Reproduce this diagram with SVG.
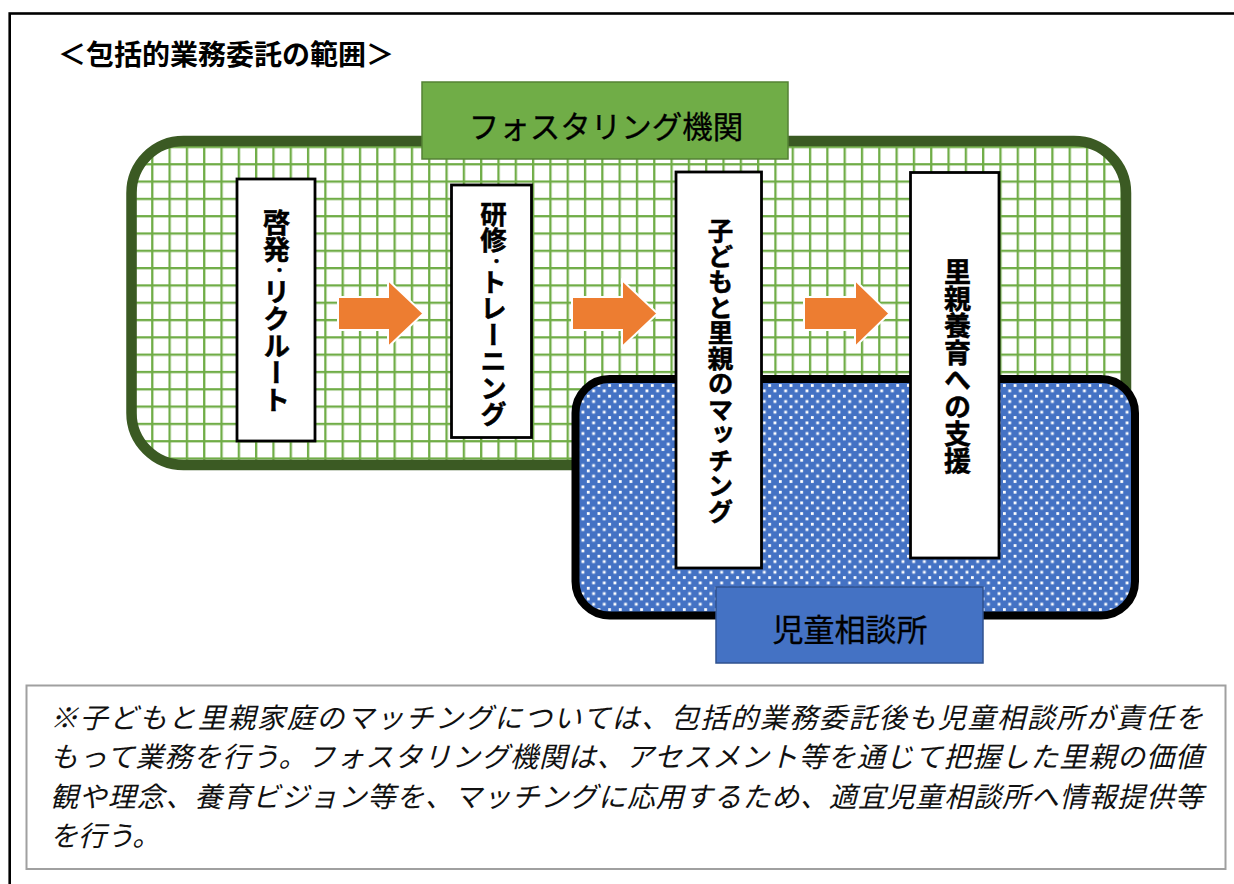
<svg xmlns="http://www.w3.org/2000/svg" width="1234" height="884" viewBox="0 0 1234 884">
<defs>
<style>
.sans{font-family:"Noto Sans CJK JP","Noto Sans CJK SC",sans-serif;}
.vbox{fill:#fff;stroke:#000;stroke-width:2.8;}
.vtxt{font-family:"Noto Sans CJK JP",sans-serif;font-weight:bold;font-size:26.5px;fill:#000;stroke:#000;stroke-width:0.5;writing-mode:vertical-rl;text-anchor:middle;}
.dot{font-size:15px;}
.arrow{fill:#ed7d31;stroke:#fff;stroke-width:2;}
.note{font-family:"Noto Sans CJK JP",sans-serif;font-style:italic;font-size:28px;fill:#111;}
</style>
<pattern id="grid" patternUnits="userSpaceOnUse" x="151.15" y="163.15" width="17.31" height="17.31">
<rect x="0" y="0" width="17.31" height="17.31" fill="#fff"/>
<rect x="0" y="0" width="2.3" height="17.31" fill="#70ad47"/>
<rect x="0" y="0" width="17.31" height="2.3" fill="#70ad47"/>
</pattern>
<pattern id="dots" patternUnits="userSpaceOnUse" x="0" y="0" width="10.67" height="10.67">
<rect x="0" y="0" width="10.67" height="10.67" fill="#4472c4"/>
<rect x="0" y="0" width="2.8" height="2.8" fill="#fff"/>
<rect x="5.33" y="5.33" width="2.8" height="2.8" fill="#fff"/>
</pattern>
</defs>

<rect id="frame" x="9.7" y="13.5" width="1240" height="890" fill="none" stroke="#000" stroke-width="2.6"/>

<text id="title" class="sans" x="58" y="65" font-size="28" font-weight="bold" fill="#000">＜包括的業務委託の範囲＞</text>

<g id="fostering-area">
<rect x="131.5" y="141" width="994.5" height="324" rx="52" ry="52" fill="url(#grid)" stroke="#3b5a23" stroke-width="10.5"/>
</g>

<g id="fostering-label">
<rect x="422" y="82" width="366" height="77" fill="#70ad47" stroke="#548235" stroke-width="1.5"/>
<text class="sans" x="606" y="138" font-size="30.5" text-anchor="middle" fill="#000" stroke="#000" stroke-width="0.3">フォスタリング機関</text>
</g>

<g id="box-recruit">
<rect class="vbox" x="237" y="179" width="78" height="262"/>
<text class="vtxt" x="276.5" y="311" style="font-size:27px">啓発<tspan class="dot" dx="3">・</tspan><tspan dx="-3">リクルート</tspan></text>
</g>

<g id="box-training">
<rect class="vbox" x="451.5" y="185" width="80" height="252.5"/>
<text class="vtxt" x="493.5" y="314">研修<tspan class="dot" dx="3">・</tspan><tspan dx="-3">トレーニング</tspan></text>
</g>

<g id="connectors">
<path class="arrow" d="M338 297 H388 V280 L423.5 313.5 L388 347 V330 H338 Z"/>
<path class="arrow" d="M572 297 H622 V280 L657.5 313.5 L622 347 V330 H572 Z"/>
<path class="arrow" d="M804 297 H855 V280 L889.5 313.5 L855 347 V330 H804 Z"/>
</g>

<g id="jisou-area">
<rect x="575.5" y="379" width="559.5" height="236.5" rx="34" ry="34" fill="url(#dots)" stroke="#000" stroke-width="8"/>
</g>

<g id="box-matching">
<rect class="vbox" x="676" y="172" width="85.5" height="396"/>
<text class="vtxt" x="720.5" y="371" style="font-size:25.5px">子どもと里親のマッチング</text>
</g>

<g id="box-support">
<rect class="vbox" x="910.5" y="172.5" width="88.5" height="385.5"/>
<text class="vtxt" x="957.5" y="366" style="font-size:27px">里親養育への支援</text>
</g>

<g id="jisou-label">
<rect x="716" y="587" width="267" height="76" fill="#4472c4" stroke="#2f528f" stroke-width="1.5"/>
<text class="sans" x="850" y="641" font-size="31" text-anchor="middle" fill="#000" stroke="#000" stroke-width="0.3">児童相談所</text>
</g>

<g id="note">
<rect x="26.5" y="685.5" width="1199" height="183.5" fill="#fff" stroke="#a0a0a0" stroke-width="2"/>
<text class="note" x="50" y="728" textLength="1153" lengthAdjust="spacing">※子どもと里親家庭のマッチングについては、包括的業務委託後も児童相談所が責任を</text>
<text class="note" x="50" y="767" textLength="1153" lengthAdjust="spacing">もって業務を行う。フォスタリング機関は、アセスメント等を通じて把握した里親の価値</text>
<text class="note" x="50" y="807" textLength="1153" lengthAdjust="spacing">観や理念、養育ビジョン等を、マッチングに応用するため、適宜児童相談所へ情報提供等</text>
<text class="note" x="50" y="846">を行う。</text>
</g>
</svg>
